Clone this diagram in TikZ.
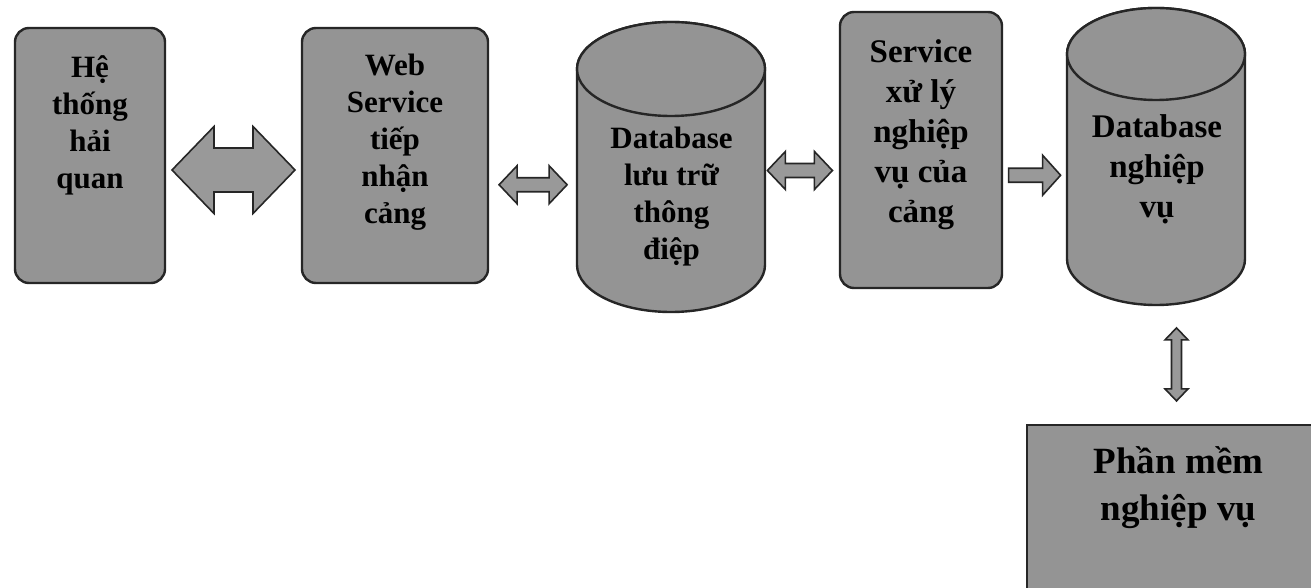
\documentclass[tikz,border=0pt]{standalone}
\usepackage{fontspec}
\setmainfont{Liberation Serif}
\usetikzlibrary{calc}
\tikzset{
  gbox/.style={draw=black!85, line width=2.4pt, fill=black!42, rounded corners=14pt, inner sep=0pt},
  sqbox/.style={draw=black!85, line width=2.4pt, fill=black!42, inner sep=0pt},
  dbframe/.style={inner sep=0pt, outer sep=0pt},
  cylst/.style={draw=black!85, line width=2.4pt, fill=black!42},
  blk/.style={draw=black!85, line width=1.6pt, fill=black!40, line join=miter},
  lbla/.style={font=\bfseries\fontsize{31}{37}\selectfont, align=center, inner sep=0pt, text=black},
  lblb/.style={font=\bfseries\fontsize{33}{40}\selectfont, align=center, inner sep=0pt, text=black},
  lblc/.style={font=\bfseries\fontsize{37}{47}\selectfont, align=center, inner sep=0pt, text=black}
}
\begin{document}
\begin{tikzpicture}[x=1pt,y=-1pt]
\clip (0,0) rectangle (1311,588);
\fill[white] (0,0) rectangle (1311,588);

% boxes
\node[gbox, minimum width=150pt, minimum height=255pt] (hq) at (90,155.5) {};
\node[gbox, minimum width=186pt, minimum height=255pt] (ws) at (395,155.5) {};
\node[gbox, minimum width=162pt, minimum height=276pt] (sv) at (921,150) {};
\node[sqbox, minimum width=303pt, minimum height=175pt] (pm) at (1178.5,512.5) {};

% cylinders
\node[dbframe, minimum width=188pt, minimum height=290pt] (db1) at (671,167) {};
\draw[cylst] ($(db1.north west)+(0,47)$) -- ($(db1.south west)+(0,-47)$)
   arc[start angle=180, end angle=0, x radius=94, y radius=47]
   -- ($(db1.north east)+(0,47)$)
   arc[start angle=0, end angle=-180, x radius=94, y radius=47] -- cycle;
\draw[cylst] ($(db1.north)+(0,47)$) ellipse[x radius=94, y radius=47];

\node[dbframe, minimum width=178pt, minimum height=297pt] (db2) at (1156,156.5) {};
\draw[cylst] ($(db2.north west)+(0,46)$) -- ($(db2.south west)+(0,-46)$)
   arc[start angle=180, end angle=0, x radius=89, y radius=46]
   -- ($(db2.north east)+(0,46)$)
   arc[start angle=0, end angle=-180, x radius=89, y radius=46] -- cycle;
\draw[cylst] ($(db2.north)+(0,46)$) ellipse[x radius=89, y radius=46];

% labels
\node[lbla] (hqt) at ($(hq.center)+(0,-30)$) {Hệ\\thống\\hải\\quan};
\node[lbla] (wst) at ($(ws.center)+(0,-13)$) {Web\\Service\\tiếp\\nhận\\cảng};
\node[lbla] (db1t) at ($(db1.center)+(0.5,30)$) {Database\\lưu trữ\\thông\\điệp};
\node[lblb] (svt) at ($(sv.center)+(0,-15)$) {Service\\xử lý\\nghiệp\\vụ của\\cảng};
\node[lblb] (db2t) at ($(db2.center)+(1,13)$) {Database\\nghiệp\\vụ};
\node[lblc] (pmt) at ($(pm.center)+(0,-24.5)$) {Phần mềm\\nghiệp vụ};

% block arrows
\coordinate (a1) at ($(hq.east)!0.5!(ws.west)+(0,14.5)$);
\begin{scope}[shift={(a1)}]
\draw[blk] (-61.5,0) -- (-19.5,-43.5) -- (-19.5,-22) -- (19.5,-22) -- (19.5,-43.5) -- (61.5,0)
  -- (19.5,43.5) -- (19.5,22) -- (-19.5,22) -- (-19.5,43.5) -- cycle;
\end{scope}

\coordinate (a2) at ($(ws.east)!0.5!(db1.west)+(0,23.5)$);
\begin{scope}[shift={(a2)}]
\draw[blk] (-34,0) -- (-16,-19) -- (-16,-7) -- (16,-7) -- (16,-19) -- (34,0)
  -- (16,19) -- (16,7) -- (-16,7) -- (-16,19) -- cycle;
\end{scope}

\coordinate (a3) at ($(db1.east)!0.5!(sv.west)+(-2,12)$);
\begin{scope}[shift={(a3)}]
\draw[blk] (-32.5,0) -- (-14.5,-19) -- (-14.5,-7) -- (14.5,-7) -- (14.5,-19) -- (32.5,0)
  -- (14.5,19) -- (14.5,7) -- (-14.5,7) -- (-14.5,19) -- cycle;
\end{scope}

\coordinate (a4) at ($(sv.east)!0.5!(db2.west)+(-0.5,22)$);
\begin{scope}[shift={(a4)}]
\draw[blk] (-26,-7) -- (8,-7) -- (8,-20) -- (26,0) -- (8,20) -- (8,7) -- (-26,7) -- cycle;
\end{scope}

\coordinate (a5) at ($(db2.south)!0.5!(pm.north)+(9.25,0)$);
\begin{scope}[shift={(a5)}]
\draw[blk] (0,-36.5) -- (11.5,-24.5) -- (5,-24.5) -- (5,24.5) -- (11.5,24.5) -- (0,36.5)
  -- (-11.5,24.5) -- (-5,24.5) -- (-5,-24.5) -- (-11.5,-24.5) -- cycle;
\end{scope}
\end{tikzpicture}
\end{document}
